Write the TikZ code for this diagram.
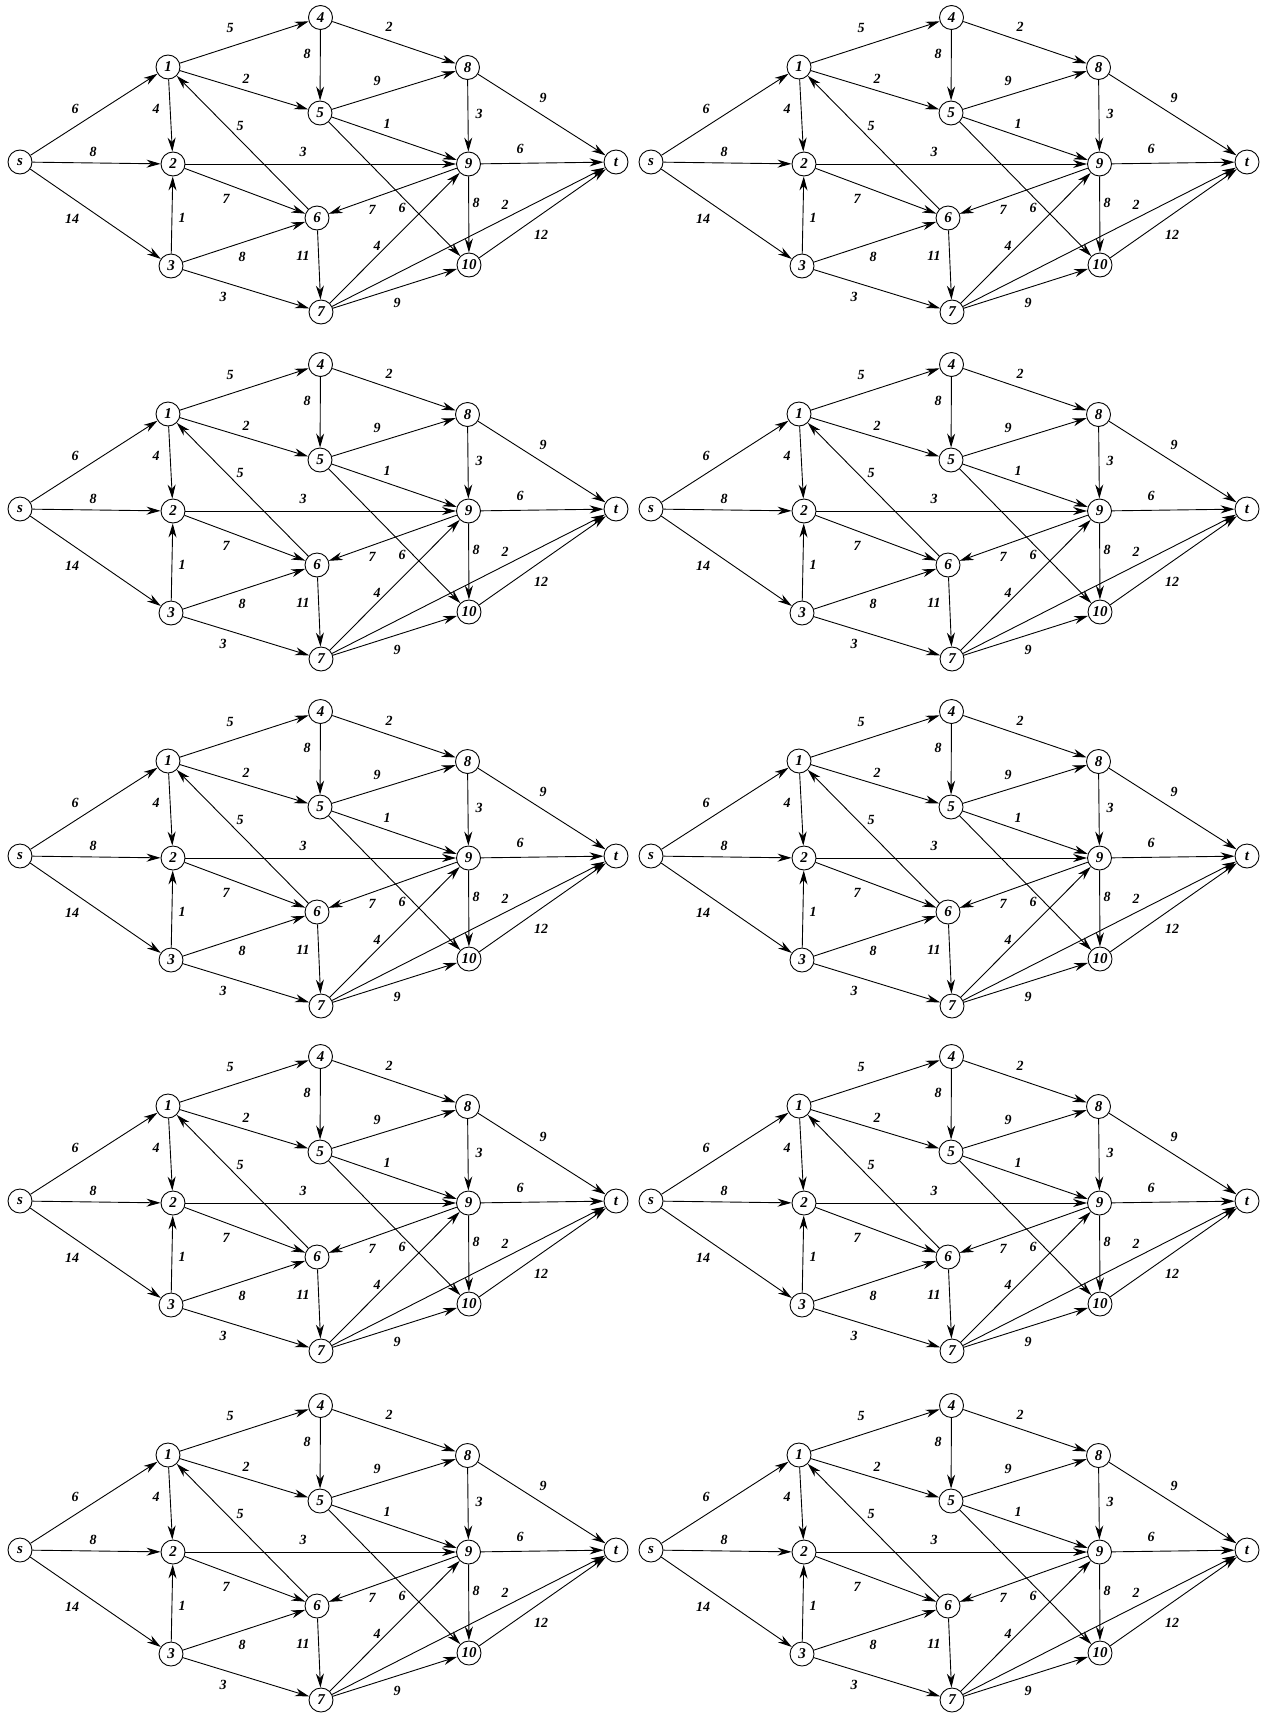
\documentclass[tikz,border=0pt]{standalone}
\usepackage{fontspec}
\setmainfont{Liberation Serif}
\usetikzlibrary{arrows.meta}
\tikzset{
  vtx/.style={circle, draw, line width=0.9pt, minimum size=24pt, inner sep=0pt,
    font=\fontsize{15}{15}\selectfont\bfseries\itshape},
  arc/.style={line width=0.9pt, -{Stealth[length=14pt,width=8pt,inset=4.5pt]}},
  wt/.style={font=\fontsize{14}{14}\selectfont\bfseries\itshape, inner sep=0pt},
}
\newcommand\netcopy[3]{%
\begin{scope}[shift={(#2,#3)}]
  \node[vtx] (#1s) at (20,162) {s};
  \node[vtx] (#11) at (168,67) {1};
  \node[vtx] (#12) at (173,164) {2};
  \node[vtx] (#13) at (171,266) {3};
  \node[vtx] (#14) at (320.5,17.5) {4};
  \node[vtx] (#15) at (320,113) {5};
  \node[vtx] (#16) at (317,218) {6};
  \node[vtx] (#17) at (321,312) {7};
  \node[vtx] (#18) at (467.5,67.5) {8};
  \node[vtx] (#19) at (468.5,164) {9};
  \node[vtx] (#1x) at (469,265) {10};
  \node[vtx] (#1t) at (616,162) {t};
  \draw[arc] (#1s) -- (#11);
  \draw[arc] (#1s) -- (#12);
  \draw[arc] (#1s) -- (#13);
  \draw[arc] (#11) -- (#14);
  \draw[arc] (#11) -- (#15);
  \draw[arc] (#11) -- (#12);
  \draw[arc] (#16) -- (#11);
  \draw[arc] (#12) -- (#19);
  \draw[arc] (#12) -- (#16);
  \draw[arc] (#13) -- (#12);
  \draw[arc] (#13) -- (#16);
  \draw[arc] (#13) -- (#17);
  \draw[arc] (#14) -- (#15);
  \draw[arc] (#14) -- (#18);
  \draw[arc] (#15) -- (#18);
  \draw[arc] (#15) -- (#19);
  \draw[arc] (#15) -- (#1x);
  \draw[arc] (#18) -- (#19);
  \draw[arc] (#18) -- (#1t);
  \draw[arc] (#19) -- (#1t);
  \draw[arc] (#19) -- (#16);
  \draw[arc] (#19) -- (#1x);
  \draw[arc] (#16) -- (#17);
  \draw[arc] (#17) -- (#19);
  \draw[arc] (#17) -- (#1t);
  \draw[arc] (#17) -- (#1x);
  \draw[arc] (#1x) -- (#1t);
  \node[wt] (#1w1) at (75,109) {6};
  \node[wt] (#1w2) at (93,152) {8};
  \node[wt] (#1w3) at (72,219) {14};
  \node[wt] (#1w4) at (230,28) {5};
  \node[wt] (#1w5) at (246,79) {2};
  \node[wt] (#1w6) at (156,109) {4};
  \node[wt] (#1w7) at (240,126) {5};
  \node[wt] (#1w8) at (303,152) {3};
  \node[wt] (#1w9) at (226,199) {7};
  \node[wt] (#1w10) at (182,218) {1};
  \node[wt] (#1w11) at (242,257) {8};
  \node[wt] (#1w12) at (223,297) {3};
  \node[wt] (#1w13) at (307,54) {8};
  \node[wt] (#1w14) at (389,27) {2};
  \node[wt] (#1w15) at (377,81) {9};
  \node[wt] (#1w16) at (387,124) {1};
  \node[wt] (#1w17) at (402,208) {6};
  \node[wt] (#1w18) at (479,114) {3};
  \node[wt] (#1w19) at (543,98) {9};
  \node[wt] (#1w20) at (520,149) {6};
  \node[wt] (#1w21) at (372,210) {7};
  \node[wt] (#1w22) at (476,203) {8};
  \node[wt] (#1w23) at (303,256) {11};
  \node[wt] (#1w24) at (377,246) {4};
  \node[wt] (#1w25) at (505,205) {2};
  \node[wt] (#1w26) at (397,303) {9};
  \node[wt] (#1w27) at (541,235) {12};
\end{scope}}
\begin{document}
\begin{tikzpicture}[x=1pt,y=-1pt]
  \useasboundingbox (0,0) rectangle (1269,1713);
  \netcopy{A}{0}{0}
  \netcopy{B}{631}{0}
  \netcopy{C}{0}{347}
  \netcopy{D}{631}{347}
  \netcopy{E}{0}{694}
  \netcopy{F}{631}{694}
  \netcopy{G}{0}{1039}
  \netcopy{H}{631}{1039}
  \netcopy{I}{0}{1388}
  \netcopy{J}{631}{1388}
\end{tikzpicture}
\end{document}
